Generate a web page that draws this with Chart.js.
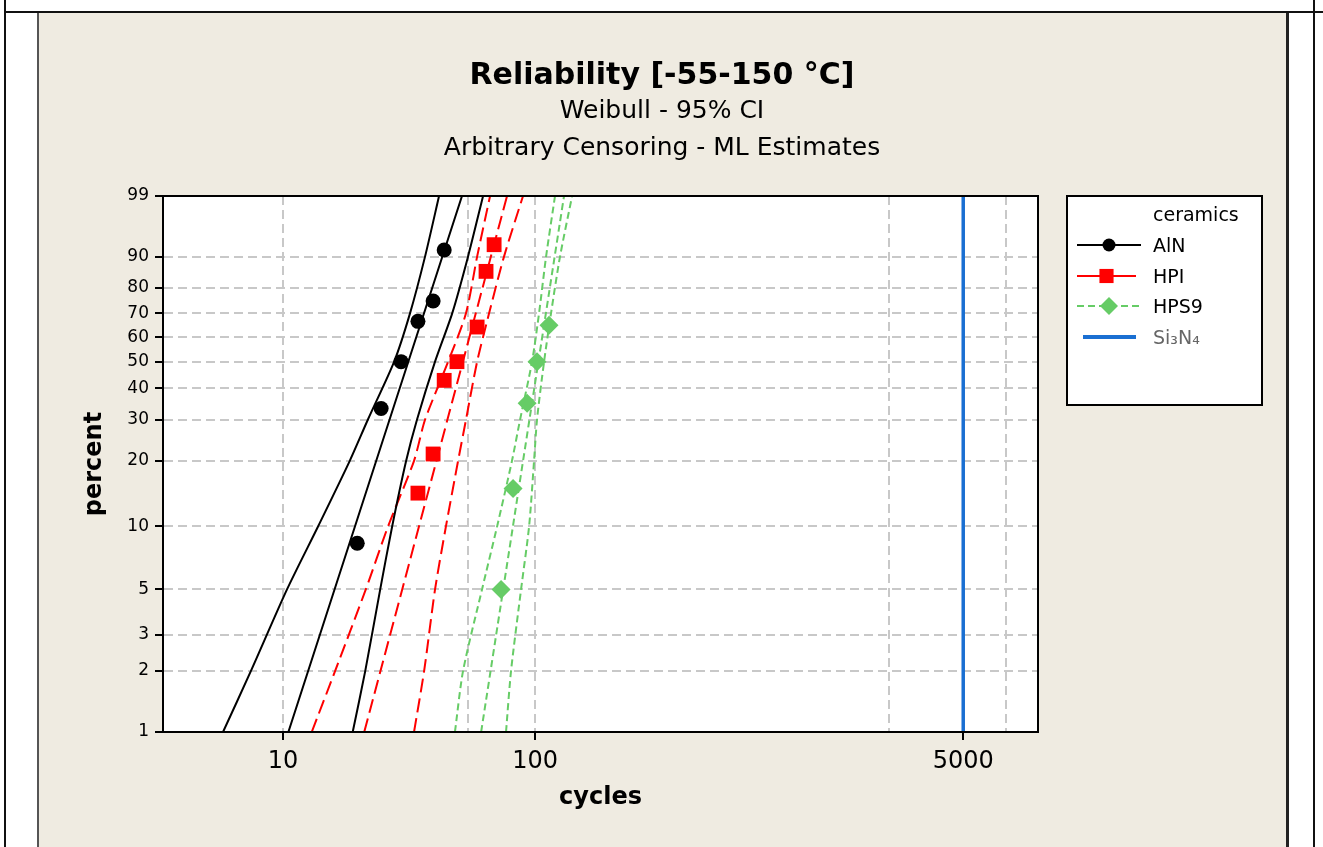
<!DOCTYPE html>
<html>
<head>
<meta charset="utf-8">
<script src="https://cdn.jsdelivr.net/npm/chart.js@4.4.1/dist/chart.umd.min.js"></script>
<style>
  html, body { margin: 0; padding: 0; background: #fff; width: 1323px; height: 847px; overflow: hidden; }
  #frameTop { position: absolute; left: 4px; top: 11px; width: 1319px; height: 2px; background: #111; }
  #frameL { position: absolute; left: 4px; top: 0; width: 2px; height: 847px; background: #111; }
  #frameR { position: absolute; left: 1313px; top: 0; width: 2px; height: 847px; background: #111; }
  #panel { position: absolute; left: 37px; top: 13px; width: 1247px; height: 840px; background: #efebe1;
           border-left: 2px solid #555; border-right: 3px solid #222; }
  canvas { position: absolute; left: 0; top: 0; }
</style>
</head>
<body>
<div id="frameL"></div><div id="frameR"></div><div id="frameTop"></div>
<div id="panel"></div>
<canvas id="chart" width="1323" height="847"></canvas>
<script>
// plotted failures: percent (y) and cycles (x)
const alnPct = [8.33, 33.33, 50, 66.67, 75, 91.67];
const alnCycles = [19.7, 24.5, 29.4, 34.3, 39.4, 43.6];
const hpiPct = [14.29, 21.43, 42.86, 50, 64.29, 85.71, 92.86];
const hpiCycles = [34.3, 39.4, 43.6, 49.0, 58.9, 63.9, 68.8];
const hps9Pct = [5, 15, 35, 50, 65];
const hps9Cycles = [73.3, 81.8, 93.0, 101.8, 113.6];

// fitted Weibull lines (straight on this paper) at 1% and 99%
const fitPct = [1, 99];
const alnFit = [10.5, 51.3];
const hpiFit = [21.0, 77.4];
const hps9Fit = [61.1, 130.3];

// 95% confidence bounds
const ciPct = [1, 2, 5, 10, 20, 30, 50, 70, 90, 99];
const alnLower = [5.78, 7.46, 10.37, 13.77, 18.4, 21.7, 27.6, 31.9, 36.6, 41.6];
const alnUpper = [18.9, 21.2, 24.3, 27.1, 30.8, 34.0, 40.1, 46.9, 54.2, 62.2];
const hpiLower = [13.0, 16.1, 21.3, 26.1, 33.1, 36.6, 45.2, 53.2, 58.9, 66.3];
const hpiUpper = [33.1, 36.3, 40.1, 44.3, 49.5, 53.2, 58.9, 65.7, 75.3, 89.6];
const hps9Lower = [48.1, 51.8, 61.6, 70.7, 81.0, 87.2, 97.3, 103.7, 110.6, 120.0];
const hps9Upper = [76.7, 80.3, 88.0, 94.7, 99.1, 101.8, 108.6, 115.7, 125.6, 140.3];

// Si3N4: no failures, reference line
const siPct = [1, 99];
const siCycles = [5000, 5000];

// axes
const yTickPct = [1, 2, 3, 5, 10, 20, 30, 40, 50, 60, 70, 80, 90, 99];
const xGrid = [10, 54.2, 100, 2540, 5000, 7400];
const xLabels = [10, 100, 5000];

const FONT = '"DejaVu Sans", Verdana, sans-serif';
Chart.defaults.font.family = FONT;
Chart.defaults.color = '#000';

// weibull probability paper: ln(-ln(1-p))
const wb = p => Math.log(-Math.log(1 - p / 100));
const pts = (cyc, pct) => cyc.map((c, i) => ({ x: c, y: wb(pct[i]) }));

const BLACK = '#000000', RED = '#ff0000', GREEN = '#66cc66', BLUE = '#1a6fd2';
const redDash = [14, 6], greenDash = [7, 4];

function line(label, cyc, pct, color, dash, width) {
  return {
    label, data: pts(cyc, pct), showLine: true, borderColor: color, borderWidth: width || 2,
    borderDash: dash || [], pointRadius: 0, tension: 0.25, order: 1
  };
}
function marks(label, cyc, pct, color, style, r) {
  return {
    label, data: pts(cyc, pct), showLine: false, backgroundColor: color, borderColor: color,
    borderWidth: 0, pointStyle: style, pointRadius: r, order: 0
  };
}

const series = [
  { text: 'AlN', color: BLACK, dash: [], point: 'circle', r: 6.5, y: 245, x0: 1077, x1: 1141 },
  { text: 'HPI', color: RED, dash: [], point: 'rect', r: 10, y: 276, x0: 1077, x1: 1136 },
  { text: 'HPS9', color: GREEN, dash: greenDash, point: 'rectRot', r: 9, y: 306, x0: 1077, x1: 1141 },
  { text: 'Si\u2083N\u2084', color: BLUE, dash: [], point: null, y: 337, x0: 1083, x1: 1136, width: 4, textColor: '#666' }
];

// panel background + plot title
const backdrop = {
  id: 'backdrop',
  beforeDraw(chart) {
    const { ctx, chartArea: a } = chart;
    ctx.save();
    ctx.fillStyle = '#fff';
    ctx.fillRect(a.left, a.top, a.right - a.left, a.bottom - a.top);
    ctx.fillStyle = '#000';
    ctx.textAlign = 'center';
    ctx.textBaseline = 'alphabetic';
    ctx.font = 'bold 30px ' + FONT;
    ctx.fillText('Reliability [-55-150 °C]', 662, 84);
    ctx.font = '25px ' + FONT;
    ctx.fillText('Weibull - 95% CI', 662, 118);
    ctx.fillText('Arbitrary Censoring - ML Estimates', 662, 155);
    ctx.restore();
  },
  afterDraw(chart) {
    const { ctx, chartArea: a } = chart;
    ctx.save();
    ctx.strokeStyle = '#000';
    ctx.lineWidth = 2;
    ctx.strokeRect(a.left, a.top, a.right - a.left, a.bottom - a.top);

    // legend
    ctx.fillStyle = '#fff';
    ctx.fillRect(1067, 196, 195, 209);
    ctx.strokeRect(1067, 196, 195, 209);
    ctx.font = '19px ' + FONT;
    ctx.textBaseline = 'middle';
    ctx.textAlign = 'left';
    ctx.fillStyle = '#000';
    ctx.fillText('ceramics', 1153, 216);
    series.forEach(s => {
      ctx.strokeStyle = s.color;
      ctx.lineWidth = s.width || 2;
      ctx.setLineDash(s.dash);
      ctx.beginPath();
      ctx.moveTo(s.x0, s.y);
      ctx.lineTo(s.x1, s.y);
      ctx.stroke();
      ctx.setLineDash([]);
      if (s.point) {
        ctx.fillStyle = s.color;
        Chart.helpers.drawPoint(ctx, { pointStyle: s.point, radius: s.r, borderWidth: 0 }, (s.x0 + s.x1) / 2, s.y);
      }
      ctx.fillStyle = s.textColor || '#000';
      ctx.fillText(s.text, 1153, s.y + 2);
    });
    ctx.restore();
  }
};

new Chart(document.getElementById('chart'), {
  type: 'scatter',
  data: {
    datasets: [
      marks('AlN', alnCycles, alnPct, BLACK, 'circle', 7.5),
      marks('HPI', hpiCycles, hpiPct, RED, 'rect', 10.5),
      marks('HPS9', hps9Cycles, hps9Pct, GREEN, 'rectRot', 9.5),
      line('AlN fit', alnFit, fitPct, BLACK),
      line('AlN lower', alnLower, ciPct, BLACK),
      line('AlN upper', alnUpper, ciPct, BLACK),
      line('HPI fit', hpiFit, fitPct, RED, redDash),
      line('HPI lower', hpiLower, ciPct, RED, redDash),
      line('HPI upper', hpiUpper, ciPct, RED, redDash),
      line('HPS9 fit', hps9Fit, fitPct, GREEN, greenDash),
      line('HPS9 lower', hps9Lower, ciPct, GREEN, greenDash),
      line('HPS9 upper', hps9Upper, ciPct, GREEN, greenDash),
      line('Si3N4', siCycles, siPct, BLUE, [], 3.5)
    ]
  },
  options: {
    responsive: false,
    animation: false,
    layout: { padding: { left: 40, right: 285, top: 196, bottom: 20 } },
    plugins: { legend: { display: false }, tooltip: { enabled: false } },
    scales: {
      x: {
        type: 'logarithmic',
        min: 3.34,
        max: 9900,
        afterBuildTicks: ax => { ax.ticks = xGrid.map(v => ({ value: v })); },
        afterFit: ax => { ax.height = 95; },
        ticks: {
          callback: v => (xLabels.includes(v) ? String(v) : ''),
          font: { size: 24 }, color: '#000', padding: 7, autoSkip: false, maxRotation: 0
        },
        grid: {
          color: '#c8c8c8', lineWidth: 2, tickLength: 8, tickWidth: 2,
          tickColor: c => (c.tick && xLabels.includes(c.tick.value) ? '#000' : 'rgba(0,0,0,0)')
        },
        border: { color: '#000', width: 2, dash: [9, 5] },
        title: {
          display: true, text: 'cycles', color: '#000',
          font: { size: 24, weight: 'bold' }, padding: { top: 0, bottom: 15 }
        }
      },
      y: {
        type: 'linear',
        min: wb(1),
        max: wb(99),
        afterBuildTicks: ax => { ax.ticks = yTickPct.map(p => ({ value: wb(p) })); },
        afterFit: ax => { ax.width = 123; },
        ticks: {
          callback: (v, i) => String(yTickPct[i]),
          font: { size: 17 }, color: '#000', padding: 6, autoSkip: false
        },
        grid: { color: '#c8c8c8', lineWidth: 2, tickLength: 8, tickWidth: 2, tickColor: '#000' },
        border: { color: '#000', width: 2, dash: [9, 5] },
        title: {
          display: true, text: 'percent', color: '#000',
          font: { size: 24, weight: 'bold' }, padding: { top: 40, bottom: 0 }
        }
      }
    }
  },
  plugins: [backdrop]
});
</script>
</body>
</html>
